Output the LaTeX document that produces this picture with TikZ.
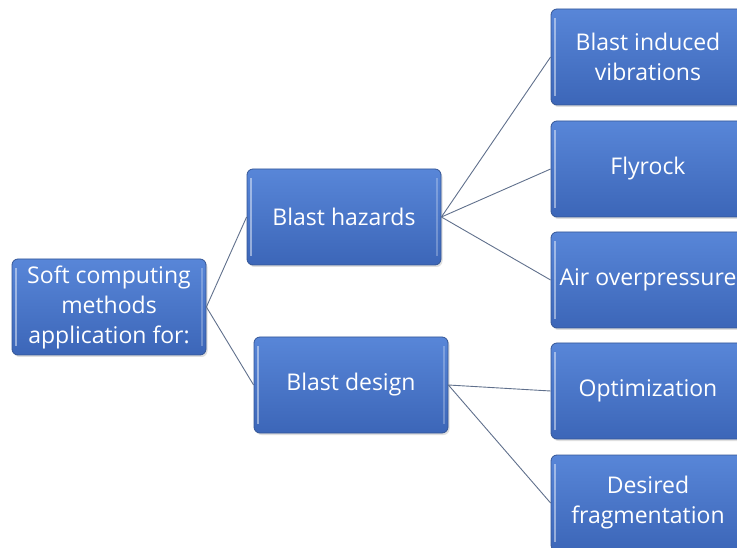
\documentclass[tikz,border=0pt]{standalone}
\usepackage{fontspec}
\setmainfont{Open Sans}
\usetikzlibrary{shadows}
\definecolor{boxtop}{RGB}{88,134,216}
\definecolor{boxbot}{RGB}{60,102,184}
\definecolor{boxedge}{RGB}{52,86,150}
\definecolor{linkgray}{RGB}{96,112,140}
\tikzset{
  box/.style={draw=boxedge, line width=0.8pt, rounded corners=6pt,
    top color=boxtop, bottom color=boxbot, text=white,
    minimum width=194pt, minimum height=96pt, inner sep=0pt, align=center,
    font={\fontsize{23}{30}\selectfont},
    drop shadow={shadow xshift=1.5pt, shadow yshift=-2pt, opacity=0.25},
    path picture={
      \draw [white, opacity=0.45, line width=1.6pt]
        ([xshift=4pt,yshift=-9pt]path picture bounding box.north west) --
        ([xshift=4pt,yshift=9pt]path picture bounding box.south west);
      \draw [white, opacity=0.25, line width=1.6pt]
        ([xshift=-4pt,yshift=-9pt]path picture bounding box.north east) --
        ([xshift=-4pt,yshift=9pt]path picture bounding box.south east);
    }},
  link/.style={draw=linkgray, line width=0.9pt},
}

\begin{document}
\begin{tikzpicture}[x=1pt,y=-1pt]
  \useasboundingbox (0,0) rectangle (737,548);
  \clip (0,0) rectangle (737,548);

  % root
  \node [box] (soft) at (109,307) {Soft computing\\methods\\application for:};

  % second level
  \node [box] (hazards) at (344,217) {Blast hazards};
  \node [box] (design) at (351,385) {Blast design};

  % leaves
  \node [box] (vibr) at (648,57) {Blast induced\\vibrations};
  \node [box] (fly) at (648,169) {Flyrock};
  \node [box] (air) at (648,280) {Air overpressure};
  \node [box] (optim) at (648,391) {Optimization};
  \node [box] (frag) at (648,503) {Desired\\fragmentation};

  \draw [link] (soft.east) -- (hazards.west);
  \draw [link] (soft.east) -- (design.west);
  \draw [link] (hazards.east) -- (vibr.west);
  \draw [link] (hazards.east) -- (fly.west);
  \draw [link] (hazards.east) -- (air.west);
  \draw [link] (design.east) -- (optim.west);
  \draw [link] (design.east) -- (frag.west);
\end{tikzpicture}
\end{document}
